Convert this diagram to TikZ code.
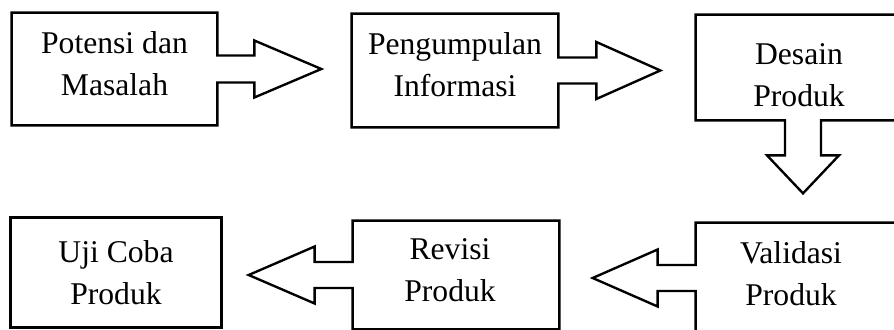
\documentclass[tikz,border=0pt]{standalone}
\usepackage{fontspec}
\setmainfont{Liberation Serif}
\usetikzlibrary{positioning, calc}

\begin{document}
\begin{tikzpicture}[
    font=\fontsize{18}{24}\selectfont,
    box/.style={rectangle, inner sep=0pt},
    boxtext/.style={align=center, inner sep=0pt},
    callout/.style={draw=black, line width=1.35pt, line join=miter}
]

\useasboundingbox (0, 0) rectangle (17.88, 6.58);
\clip (0, 0) rectangle (17.88, 6.58);

% top row
\node[box, minimum width=4.10cm, minimum height=2.24cm] (potensi) at (2.29, 5.20) {};
\node[box, minimum width=4.12cm, minimum height=2.26cm] (info) at (9.10, 5.17) {};
\node[box, minimum width=4.28cm, minimum height=2.10cm] (desain) at (16.06, 5.23) {};

% bottom row
\node[box, minimum width=4.28cm, minimum height=2.20cm] (validasi) at (16.06, 1.02) {};
\node[box, minimum width=4.12cm, minimum height=2.16cm] (revisi) at (9.12, 1.08) {};
\node[box, minimum width=4.20cm, minimum height=2.18cm] (ujicoba) at (2.32, 1.13) {};

% texts
\node[boxtext] (potensiText) at ([yshift=1.1mm]potensi.center) {Potensi dan\\Masalah};
\node[boxtext] (infoText) at ([yshift=1.2mm]info.center) {Pengumpulan\\Informasi};
\node[boxtext] (desainText) at ([xshift=-0.8mm, yshift=-1.6mm]desain.center) {Desain\\Produk};
\node[boxtext] (validasiText) at ([xshift=-2.4mm, yshift=0.9mm]validasi.center) {Validasi\\Produk};
\node[boxtext] (revisiText) at ([xshift=-1.2mm, yshift=0.9mm]revisi.center) {Revisi\\Produk};
\node[boxtext] (ujicobaText) at (ujicoba.center) {Uji Coba\\Produk};

% right callouts
\draw[callout] (potensi.north east) -- ([yshift=2.7mm]potensi.east) -- ++(0.74, 0)
    -- ++(0, 0.30) -- ++(1.34, -0.57) -- ++(-1.34, -0.57) -- ++(0, 0.30)
    -- ([yshift=-2.7mm]potensi.east) -- (potensi.south east)
    -- (potensi.south west) -- (potensi.north west) -- cycle;
\draw[callout] (info.north east) -- ([yshift=2.6mm]info.east) -- ++(0.76, 0)
    -- ++(0, 0.31) -- ++(1.28, -0.57) -- ++(-1.28, -0.57) -- ++(0, 0.31)
    -- ([yshift=-2.6mm]info.east) -- (info.south east)
    -- (info.south west) -- (info.north west) -- cycle;

% down callout
\draw[callout] (desain.south west) -- ([xshift=-3.6mm]desain.south) -- ++(0, -0.70)
    -- ++(-0.36, 0) -- ++(0.72, -0.76) -- ++(0.72, 0.76) -- ++(-0.36, 0)
    -- ([xshift=3.6mm]desain.south) -- (desain.south east)
    -- (desain.north east) -- (desain.north west) -- cycle;

% left callouts
\draw[callout] (validasi.north west) -- ([yshift=2.6mm]validasi.west) -- ++(-0.76, 0)
    -- ++(0, 0.31) -- ++(-1.30, -0.57) -- ++(1.30, -0.57) -- ++(0, 0.31)
    -- ([yshift=-2.6mm]validasi.west) -- (validasi.south west)
    -- (validasi.south east) -- (validasi.north east) -- cycle;
\draw[callout] (revisi.north west) -- ([yshift=2.6mm]revisi.west) -- ++(-0.76, 0)
    -- ++(0, 0.31) -- ++(-1.32, -0.57) -- ++(1.32, -0.57) -- ++(0, 0.31)
    -- ([yshift=-2.6mm]revisi.west) -- (revisi.south west)
    -- (revisi.south east) -- (revisi.north east) -- cycle;

\draw[callout] (ujicoba.north west) rectangle (ujicoba.south east);
\end{tikzpicture}
\end{document}
